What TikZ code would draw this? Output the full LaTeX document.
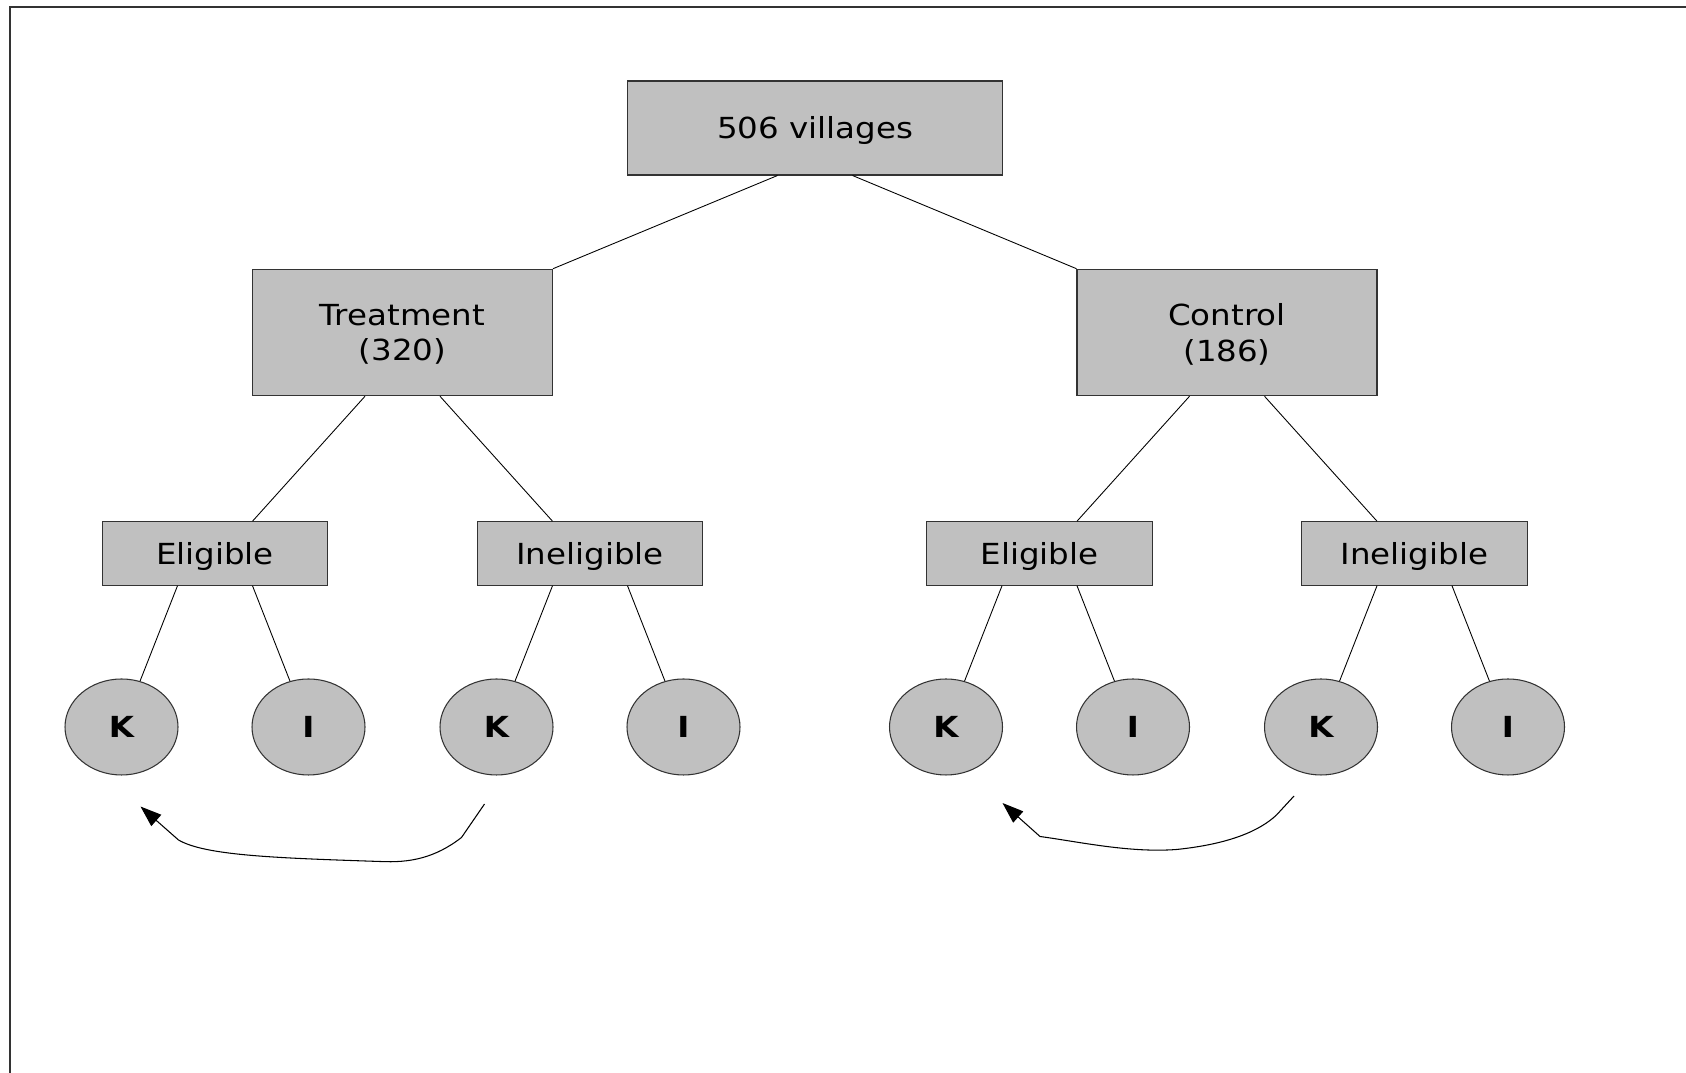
\documentclass[tikz,border=0pt]{standalone}
\usepackage{fontspec}
\setmainfont{DejaVu Sans}[FakeStretch=1.12]
\usetikzlibrary{shapes.geometric,arrows.meta}
\definecolor{boxgray}{HTML}{C0C0C0}
\definecolor{edge}{HTML}{333333}

\begin{document}
\begin{tikzpicture}[font=\fontsize{16.5}{20}\selectfont,
  box/.style={draw=edge,fill=boxgray,line width=.6pt,inner sep=0pt,align=center,text depth=0pt},
  unit/.style={ellipse,draw=edge,fill=boxgray,line width=.6pt,inner sep=0pt,minimum width=2.26cm,minimum height=1.92cm,font=\fontsize{16.5}{20}\selectfont\bfseries},
  link/.style={line width=.5pt},
  swap/.style={line width=.6pt,-{Triangle[length=12pt,width=8.5pt]}}]
\useasboundingbox (0,0) rectangle (33.72,21.46);
% frame: only its top and left edges fall inside the page
\draw[line width=1.2pt,edge] (0.2,0) -- (0.2,21.32) -- (33.72,21.32);
% villages and the two arms
\node[box,minimum width=7.5cm,minimum height=1.88cm] (vill) at (16.30,18.90) {506 villages};
\node[box,minimum width=6cm,minimum height=2.53cm] (treat) at (8.05,14.81) {Treatment\\(320)};
\node[box,minimum width=6cm,minimum height=2.53cm] (ctrl) at (24.54,14.81) {Control\\(186)};
\foreach \name/\x/\txt in {te/4.30/Eligible,ti/11.80/Ineligible,ce/20.79/Eligible,ci/28.29/Ineligible}{
  \node[box,minimum width=4.51cm,minimum height=1.27cm] (\name) at (\x,10.39) {\txt};
  \node[unit] (\name k) at ([xshift=-1.87cm,yshift=-3.47cm]\name) {K};
  \node[unit] (\name i) at ([xshift=1.87cm,yshift=-3.47cm]\name) {I};
}
% tree lines
\draw[link] ([xshift=-.75cm]vill.south) -- (treat.north east);
\draw[link] ([xshift=.75cm]vill.south) -- (ctrl.north west);
\foreach \up/\l/\r in {treat/te/ti,ctrl/ce/ci}{
  \draw[link] ([xshift=-.75cm]\up.south) -- ([xshift=.75cm]\l.north);
  \draw[link] ([xshift=.75cm]\up.south) -- ([xshift=-.75cm]\r.north);
}
\foreach \p in {te,ti,ce,ci}{
  \draw[link] ([xshift=-.75cm]\p.south) -- (\p k.68);
  \draw[link] ([xshift=.75cm]\p.south) -- (\p i.112);
}
% curved arrows from ineligible K to eligible K
\draw[swap] ([shift={(-0.24,-0.57)}]tik.south) -- (9.23,4.71)
  .. controls (8.7,4.3) and (8.2,4.2) .. (7.6,4.23)
  .. controls (5.5,4.3) and (4.1,4.35) .. (3.57,4.66)
  -- ([shift={(0.38,-0.62)}]tek.south);
\draw[swap] ([shift={(-0.54,-0.41)}]cik.south) -- (25.53,5.16)
  .. controls (25.2,4.85) and (24.6,4.58) .. (23.53,4.47)
  .. controls (22.6,4.4) and (21.6,4.62) .. (20.8,4.73)
  -- ([shift={(1.13,-0.55)}]cek.south);
\end{tikzpicture}
\end{document}
